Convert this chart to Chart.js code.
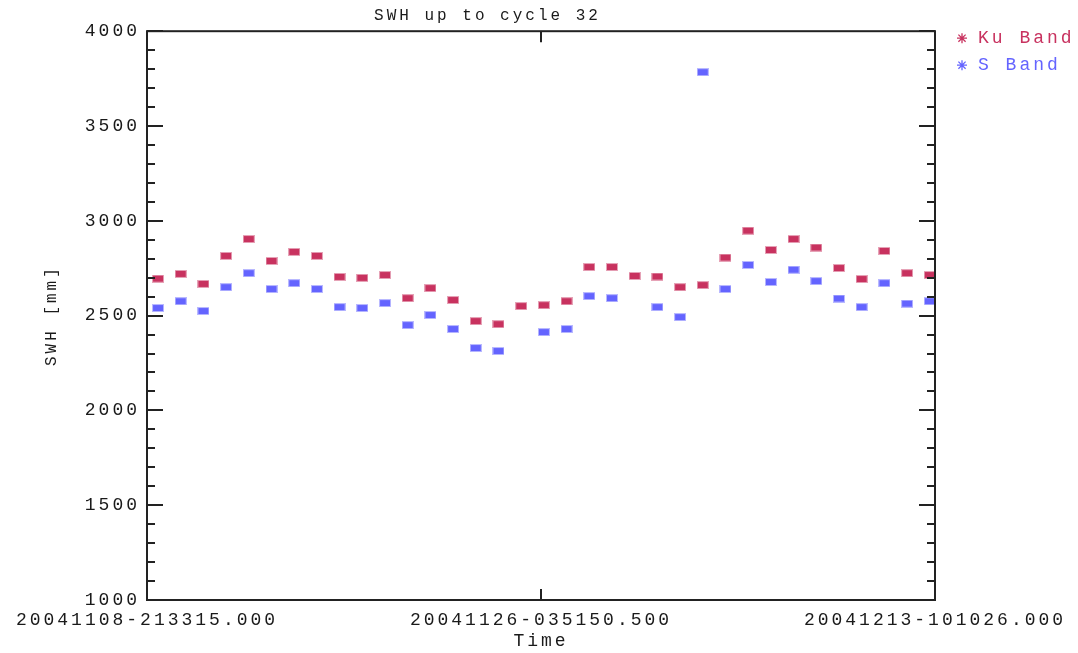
<!DOCTYPE html>
<html>
<head>
<meta charset="utf-8">
<script src="https://cdn.jsdelivr.net/npm/chart.js@4.4.0/dist/chart.umd.min.js"></script>
<style>
  html, body { margin: 0; padding: 0; background: #fff; }
  #wrap { width: 1078px; height: 653px; }
</style>
</head>
<body>
<div id="wrap"><canvas id="swhChart"></canvas></div>
<script>
const seriesNames = ['Ku Band', 'S Band'];
const seriesColors = ['#c8325f', '#6464ff'];

// pass number along the time axis
const passes = [1, 2, 3, 4, 5, 6, 7, 8, 9, 10, 11, 12, 13, 14, 15, 16, 17, 18,
                19, 20, 21, 22, 23, 24, 25, 26, 27, 28, 29, 30, 31, 32, 33, 34, 35];

const swhKu = [2695, 2720, 2667, 2815, 2904, 2788, 2836, 2815, 2704, 2699, 2714, 2592,
               2645, 2582, 2471, 2455, 2550, 2555, 2576, 2756, 2756, 2709, 2706, 2650,
               2661, 2806, 2948, 2846, 2904, 2859, 2751, 2693, 2841, 2724, 2714];

const swhS = [2540, 2576, 2524, 2650, 2724, 2640, 2671, 2640, 2545, 2540, 2566, 2450,
              2503, 2429, 2329, 2313, null, 2413, 2429, 2603, 2592, null, 2545, 2492,
              3784, 2640, 2767, 2677, 2742, 2682, 2590, 2545, 2671, 2563, 2576];

const xTickLabels = ['20041108-213315.000', '20041126-035150.500', '20041213-101026.000'];
const xMin = 0.515, xMax = 35.23;
const yMin = 1000, yMax = 4000;

const FONT = '"Liberation Mono", "DejaVu Sans Mono", monospace';
const INK = '#1a1a1a';
const SPACING = '3px';

// small filled block used as the plot symbol
function blockMarker(color) {
  const c = document.createElement('canvas');
  c.width = 12; c.height = 8;
  const g = c.getContext('2d');
  g.fillStyle = color;
  g.globalAlpha = 0.45;
  g.fillRect(0, 0, 12, 8);
  g.globalAlpha = 1;
  g.fillRect(1, 1, 10, 6);
  return c;
}

function toPoints(ys) {
  const pts = [];
  ys.forEach((v, i) => { if (v !== null) pts.push({ x: passes[i], y: v }); });
  return pts;
}

// boxed frame with inward ticks, plus the coloured legend on the right
const frameTicks = {
  id: 'frameTicks',
  beforeUpdate(chart) { chart.ctx.letterSpacing = SPACING; },
  beforeDraw(chart) { chart.ctx.letterSpacing = SPACING; },
  afterDraw(chart) {
    const { ctx, chartArea: a, scales: { x, y } } = chart;
    ctx.save();
    ctx.strokeStyle = '#222';
    ctx.lineWidth = 2;
    ctx.strokeRect(a.left, a.top, a.right - a.left, a.bottom - a.top);

    ctx.beginPath();
    for (let v = y.min; v <= y.max; v += 100) {
      const py = Math.round(y.getPixelForValue(v));
      const len = v % 500 === 0 ? 16 : 8;
      ctx.moveTo(a.left, py); ctx.lineTo(a.left + len, py);
      ctx.moveTo(a.right, py); ctx.lineTo(a.right - len, py);
    }
    x.ticks.forEach(t => {
      if (t.value === x.min || t.value === x.max) return;
      const px = Math.round(x.getPixelForValue(t.value));
      ctx.moveTo(px, a.top); ctx.lineTo(px, a.top + 11);
      ctx.moveTo(px, a.bottom); ctx.lineTo(px, a.bottom - 11);
    });
    ctx.stroke();

    ctx.font = '18px ' + FONT;
    ctx.textBaseline = 'middle';
    ctx.textAlign = 'left';
    ctx.letterSpacing = SPACING;
    ctx.lineWidth = 1.3;
    seriesNames.forEach((name, i) => {
      const cx = a.right + 27, cy = a.top + 7 + i * 27, r = 5;
      ctx.strokeStyle = seriesColors[i];
      ctx.beginPath();
      ctx.moveTo(cx - r, cy); ctx.lineTo(cx + r, cy);
      ctx.moveTo(cx, cy - r); ctx.lineTo(cx, cy + r);
      ctx.moveTo(cx - 3.6, cy - 3.6); ctx.lineTo(cx + 3.6, cy + 3.6);
      ctx.moveTo(cx - 3.6, cy + 3.6); ctx.lineTo(cx + 3.6, cy - 3.6);
      ctx.stroke();
      ctx.fillStyle = seriesColors[i];
      ctx.fillText(name, a.right + 43, cy);
    });
    ctx.restore();
  }
};

new Chart(document.getElementById('swhChart'), {
  type: 'scatter',
  data: {
    datasets: [
      {
        label: seriesNames[0],
        data: toPoints(swhKu),
        pointStyle: blockMarker(seriesColors[0]),
        backgroundColor: seriesColors[0],
        borderColor: seriesColors[0],
        pointRadius: 5
      },
      {
        label: seriesNames[1],
        data: toPoints(swhS),
        pointStyle: blockMarker(seriesColors[1]),
        backgroundColor: seriesColors[1],
        borderColor: seriesColors[1],
        pointRadius: 5
      }
    ]
  },
  options: {
    responsive: true,
    maintainAspectRatio: false,
    animation: false,
    layout: { padding: { left: 40, right: 143, top: 0, bottom: 0 } },
    plugins: {
      legend: { display: false },
      tooltip: { enabled: false },
      title: {
        display: true,
        text: 'SWH up to cycle 32',
        color: INK,
        font: { family: FONT, size: 16, weight: 'normal' },
        padding: { top: 6, bottom: 6 }
      }
    },
    scales: {
      x: {
        type: 'linear',
        min: xMin,
        max: xMax,
        grid: { display: false, drawTicks: false },
        border: { display: false },
        afterBuildTicks(scale) {
          scale.ticks = [{ value: xMin }, { value: (xMin + xMax) / 2 }, { value: xMax }];
        },
        afterFit(scale) { scale.height = 53; },
        ticks: {
          autoSkip: false,
          maxRotation: 0,
          padding: 9,
          color: INK,
          font: { family: FONT, size: 18 },
          callback: (v, i) => xTickLabels[i]
        },
        title: {
          display: true,
          text: 'Time',
          color: INK,
          font: { family: FONT, size: 18 },
          padding: { top: 0, bottom: 1 }
        }
      },
      y: {
        min: yMin,
        max: yMax,
        grid: { display: false, drawTicks: false },
        border: { display: false },
        afterFit(scale) { scale.width = 107; },
        ticks: {
          stepSize: 500,
          padding: 7,
          color: INK,
          font: { family: FONT, size: 18 },
          callback: v => String(v)
        },
        title: {
          display: true,
          text: 'SWH [mm]',
          color: INK,
          font: { family: FONT, size: 16 },
          padding: { top: 2, bottom: 0 }
        }
      }
    }
  },
  plugins: [frameTicks]
});
</script>
</body>
</html>
